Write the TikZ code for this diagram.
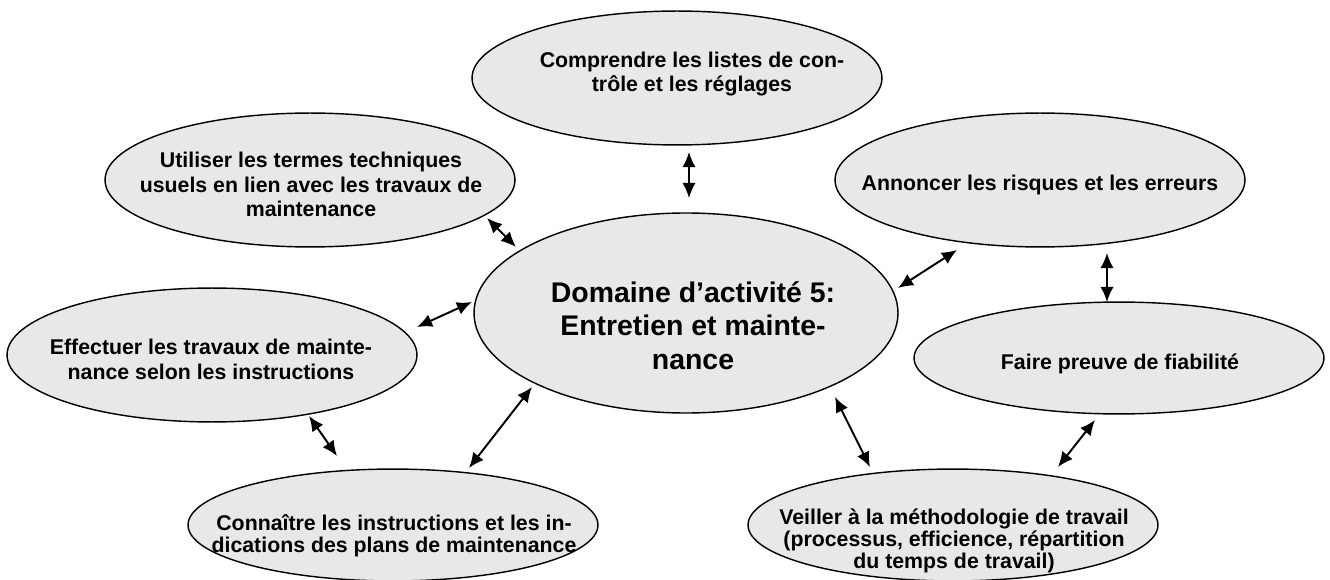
\documentclass[tikz,border=0pt]{standalone}
\usepackage{fontspec}
\setmainfont{Liberation Sans}[Ligatures=CommonOff]
\usetikzlibrary{calc,arrows.meta,shapes.geometric}
\definecolor{bubblegray}{RGB}{232,232,232}

\begin{document}
\begin{tikzpicture}[
		x=0.563pt, y=-0.563pt,
		bubble/.style={ellipse, draw, line width=0.8pt, fill=bubblegray, inner sep=0pt, minimum width=230.8pt, minimum height=75.4pt},
		flat/.style={bubble, minimum height=63pt},
		hub/.style={bubble, minimum width=238.7pt, minimum height=112.6pt},
		txt/.style={align=center, anchor=base, font=\fontsize{12}{13.8}\selectfont\bfseries},
		tight/.style={txt, font=\fontsize{12}{12.2}\selectfont\bfseries},
		hubtxt/.style={txt, font=\fontsize{16}{18.6}\selectfont\bfseries},
		link/.style={<->, >={Latex[length=8.5pt,width=7.5pt]}, line width=1.1pt}
	]
	\useasboundingbox (0,0) rectangle (1330,580);

	\node[hub] (dom) at (686,313) {};
	\node[bubble] (cmp) at (677,78) {};
	\node[bubble] (uti) at (310,180) {};
	\node[bubble] (eff) at (212,355) {};
	\node[bubble] (ann) at (1040,180) {};
	\node[flat] (fai) at (1119,358) {};
	\node[flat] (con) at (393,525) {};
	\node[flat] (vei) at (953,525) {};

	\node[hubtxt] at (693,369) {Domaine d’activité 5:\\Entretien et mainte-\\nance};
	\node[txt] at (692,92) {Comprendre les listes de con-\\trôle et les réglages};
	\node[txt] at (311,217) {Utiliser les termes techniques\\usuels en lien avec les travaux de\\maintenance};
	\node[txt] at (211,379) {Effectuer les travaux de mainte-\\nance selon les instructions};
	\node[txt] at (1040,191) {Annoncer les risques et les erreurs};
	\node[txt] at (1120,369) {Faire preuve de fiabilité};
	\node[tight] at (394,552) {Connaître les instructions et les in-\\dications des plans de maintenance};
	\node[tight] at (954,568) {Veiller à la méthodologie de travail\\(processus, efficience, répartition\\du temps de travail)};

	\draw[link] ($(cmp)+(12,74)$) -- ($(dom)+(3,-115)$);
	\draw[link] ($(uti)+(177,38)$) -- ($(dom)+(-170,-66)$);
	\draw[link] ($(eff)+(205,-28)$) -- ($(dom)+(-214,-11)$);
	\draw[link] ($(eff)+(97,61)$) -- ($(con)+(-56,-69)$);
	\draw[link] ($(dom)+(-154,74)$) -- ($(con)+(76,-57)$);
	\draw[link] ($(ann)+(-83,70)$) -- ($(dom)+(212,-25)$);
	\draw[link] ($(ann)+(67,73)$) -- ($(fai)+(-12,-56)$);
	\draw[link] ($(dom)+(149,84)$) -- ($(vei)+(-83,-58)$);
	\draw[link] ($(fai)+(-24,62)$) -- ($(vei)+(105,-58)$);
\end{tikzpicture}
\end{document}
